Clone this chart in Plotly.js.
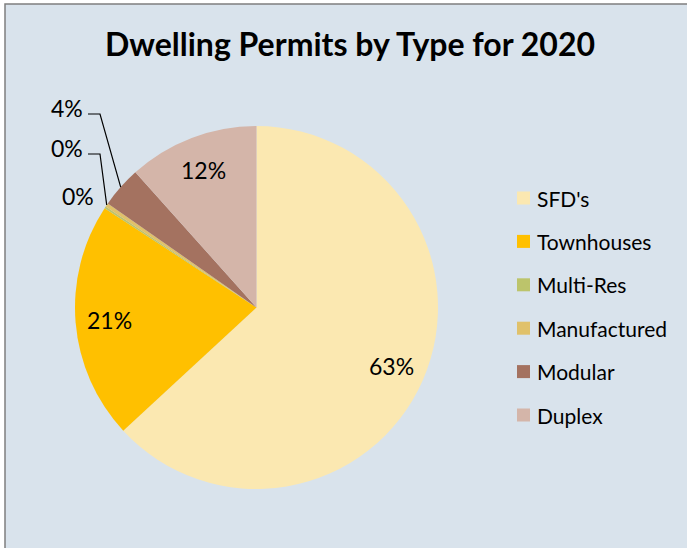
<!DOCTYPE html>
<html><head><meta charset="utf-8">
<script src="https://cdn.plot.ly/plotly-3.0.1.min.js"></script>
<style>html,body{margin:0;padding:0;background:#fff;}#chart{width:687px;height:548px;}</style>
</head><body><div id="chart"></div>
<script>
// ---- data ----
const labels = ["SFD's", "Townhouses", "Multi-Res", "Manufactured", "Modular", "Duplex"];
const values = [380, 127, 1, 2, 22, 70];
const colors = ["#FBE8B1", "#FFC000", "#BCC46B", "#E0C16A", "#A47260", "#D4B5A9"];
const chartTitle = "Dwelling Permits by Type for 2020";

// ---- layout geometry (pixels) ----
const W = 687, H = 548;
const cx = 256.5, cy = 307.5, R = 181.5;
const px = x => x / W, py = y => 1 - y / H;
const FONT = "Lato, 'Open Sans', sans-serif";

// label placement for small (outside) slices: label centre and whether a leader line is drawn
const outsidePlacement = {
  2: {x: 78, y: 196, leader: false},
  3: {x: 67, y: 148, leader: true},
  4: {x: 67, y: 108, leader: true}
};

const total = values.reduce((a, b) => a + b, 0);
const annotations = [];
const shapes = [];

// background panel with border
shapes.push({type: 'rect', xref: 'paper', yref: 'paper', layer: 'below',
  x0: px(5), x1: 1.05, y0: -0.05, y1: py(4),
  fillcolor: '#D9E3EC', line: {color: '#7F7F7F', width: 1.5}});

let cum = 0;
values.forEach((v, i) => {
  const frac = v / total;
  const mid = (cum + frac / 2) * 2 * Math.PI;
  cum += frac;
  const txt = Math.round(frac * 100) + '%';
  if (outsidePlacement[i]) {
    const p = outsidePlacement[i];
    annotations.push({xref: 'paper', yref: 'paper', x: px(p.x), y: py(p.y),
      xanchor: 'center', yanchor: 'middle', showarrow: false, text: txt,
      font: {family: FONT, size: 23, color: '#000'}});
    if (p.leader) {
      const ax = cx + R * Math.sin(mid), ay = cy - R * Math.cos(mid);
      const sx = p.x + 21, sy = p.y + 6, ex = sx + 12;
      shapes.push({type: 'path', xref: 'paper', yref: 'paper',
        path: `M${px(sx)},${py(sy)} L${px(ex)},${py(sy)} L${px(ax)},${py(ay)}`,
        line: {color: '#000', width: 1.2}});
    }
  } else {
    const rr = 0.81 * R;
    const lx = cx + rr * Math.sin(mid), ly = cy - rr * Math.cos(mid);
    annotations.push({xref: 'paper', yref: 'paper', x: px(lx), y: py(ly),
      xanchor: 'center', yanchor: 'middle', showarrow: false, text: txt,
      font: {family: FONT, size: 23, color: '#000'}});
  }
});

// legend (drawn manually to match spacing)
const legX = 517, legTextX = 535, legY0 = 198, legStep = 43.4;
labels.forEach((lab, i) => {
  const y = legY0 + i * legStep;
  shapes.push({type: 'rect', xref: 'paper', yref: 'paper',
    x0: px(legX), x1: px(legX + 13), y0: py(y - 6.5), y1: py(y + 6.5),
    fillcolor: colors[i], line: {width: 0}});
  annotations.push({xref: 'paper', yref: 'paper', x: px(legTextX), y: py(y),
    xanchor: 'left', yanchor: 'middle', showarrow: false, text: lab,
    font: {family: FONT, size: 21, color: '#000'}});
});

const trace = {
  type: 'pie', labels: labels, values: values, sort: false,
  direction: 'clockwise', rotation: 0,
  marker: {colors: colors, line: {width: 0}},
  textinfo: 'none', hoverinfo: 'label+percent', showlegend: false,
  domain: {x: [px(cx - R), px(cx + R)], y: [py(cy + R), py(cy - R)]}
};

const layout = {
  width: W, height: H,
  margin: {l: 0, r: 0, t: 0, b: 0},
  paper_bgcolor: '#FFFFFF',
  title: {text: '<b>' + chartTitle + '</b>', x: px(350), xanchor: 'center',
    y: py(45), yanchor: 'middle', font: {family: FONT, size: 32, color: '#000'}},
  shapes: shapes, annotations: annotations, showlegend: false
};

Plotly.newPlot('chart', [trace], layout, {displayModeBar: false, staticPlot: true});
</script>
</body></html>
